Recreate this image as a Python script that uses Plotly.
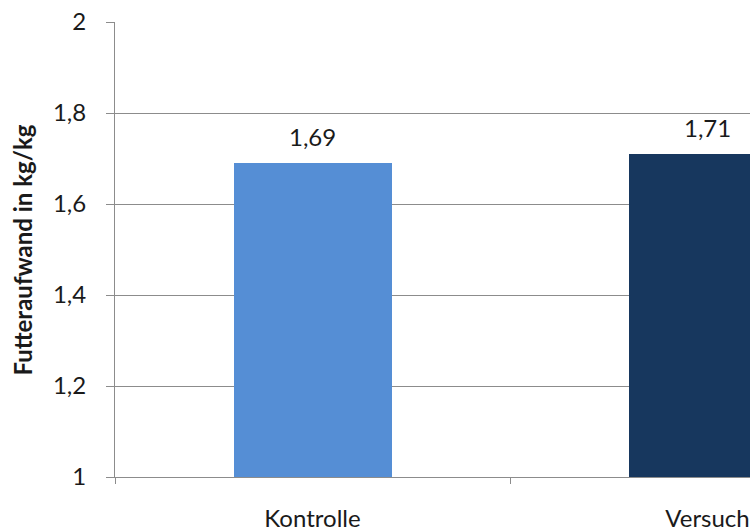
import plotly.graph_objects as go

categories = ["Kontrolle", "Versuch"]
values = [1.69, 1.71]
value_labels = ["1,69", "1,71"]
colors = ["#558ED5", "#17375E"]
y_ticks = [1, 1.2, 1.4, 1.6, 1.8, 2]
y_title = "Futteraufwand in kg/kg"

FONT = "Lato"
TXT = "#1a1a1a"
FS = 24

fig = go.Figure()
fig.add_trace(go.Bar(
    x=categories, y=values, marker=dict(color=colors, line=dict(width=0)),
    width=0.4, showlegend=False, hoverinfo="skip",
))

for c, v, lab in zip(categories, values, value_labels):
    fig.add_annotation(x=c, y=v, text=lab, showarrow=False, xanchor="center",
                       yanchor="bottom", yshift=10,
                       font=dict(family=FONT, size=FS, color=TXT))

fig.add_annotation(xref="paper", yref="paper", x=(22 - 115) / 635, y=0.5,
                   text="<b>" + y_title + "</b>", textangle=-90, showarrow=False,
                   xanchor="center", yanchor="middle",
                   font=dict(family=FONT, size=FS, color=TXT))

fig.update_layout(
    width=750, height=532,
    margin=dict(l=115, r=0, t=22, b=55),
    paper_bgcolor="white", plot_bgcolor="white",
    separators=",.",
    font=dict(family=FONT, size=FS, color=TXT),
    bargap=0,
)
fig.update_xaxes(
    range=[-0.5, -0.5 + 635 / 395], automargin=False,
    showline=True, linecolor="#8c8c8c", linewidth=1,
    ticks="outside", ticklen=6, tickcolor="#8c8c8c", tickson="boundaries",
    showgrid=False, ticklabelstandoff=20, zeroline=False,
)
fig.update_yaxes(
    range=[1, 2], tickvals=y_ticks, automargin=False,
    showline=True, linecolor="#8c8c8c", linewidth=1,
    ticks="outside", ticklen=8, tickcolor="#8c8c8c",
    showgrid=True, gridcolor="#8c8c8c", gridwidth=1,
    ticklabelstandoff=15, zeroline=False,
)

fig.write_html("out.html")
